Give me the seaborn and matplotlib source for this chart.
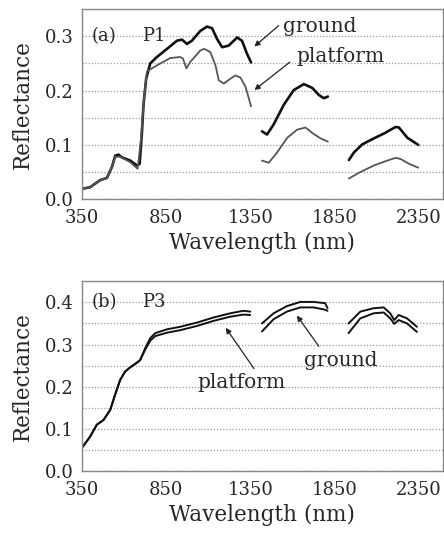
import numpy as np
import pandas as pd
import matplotlib
matplotlib.use("Agg")
import matplotlib.pyplot as plt
import seaborn as sns
from matplotlib.ticker import MultipleLocator

# ---------------- data: panel (a) P1 ----------------
a_ground_wl_1 = [350, 398, 457, 497, 527, 547, 566, 586, 636, 676, 692, 705, 715, 731, 755, 795, 855, 914, 944, 974, 1003, 1053, 1093, 1123, 1153, 1183, 1222, 1272, 1301, 1331, 1355]
a_ground_r_1 = [0.019, 0.022, 0.035, 0.039, 0.059, 0.080, 0.082, 0.077, 0.071, 0.062, 0.065, 0.120, 0.174, 0.222, 0.250, 0.262, 0.277, 0.292, 0.294, 0.286, 0.292, 0.310, 0.318, 0.315, 0.295, 0.280, 0.283, 0.298, 0.292, 0.268, 0.252]
a_plat_wl_1 = [350, 398, 457, 497, 527, 547, 576, 636, 680, 700, 715, 735, 759, 815, 874, 934, 950, 970, 994, 1053, 1077, 1113, 1143, 1163, 1193, 1232, 1262, 1292, 1322, 1336, 1355]
a_plat_r_1 = [0.019, 0.022, 0.035, 0.039, 0.059, 0.078, 0.078, 0.068, 0.056, 0.110, 0.175, 0.235, 0.240, 0.250, 0.260, 0.262, 0.259, 0.241, 0.253, 0.274, 0.277, 0.271, 0.247, 0.219, 0.213, 0.222, 0.228, 0.224, 0.207, 0.192, 0.171]
a_ground_wl_2 = [1420, 1450, 1490, 1550, 1609, 1669, 1719, 1758, 1788, 1812]
a_ground_r_2 = [0.125, 0.119, 0.138, 0.174, 0.201, 0.212, 0.205, 0.192, 0.186, 0.189]
a_plat_wl_2 = [1420, 1460, 1510, 1570, 1629, 1679, 1719, 1768, 1812]
a_plat_r_2 = [0.071, 0.067, 0.086, 0.113, 0.128, 0.132, 0.122, 0.112, 0.106]
a_ground_wl_3 = [1937, 1967, 2017, 2086, 2146, 2215, 2235, 2285, 2350]
a_ground_r_3 = [0.072, 0.086, 0.101, 0.112, 0.121, 0.133, 0.132, 0.113, 0.100]
a_plat_wl_3 = [1937, 2006, 2086, 2165, 2215, 2245, 2295, 2350]
a_plat_r_3 = [0.038, 0.050, 0.062, 0.071, 0.076, 0.074, 0.065, 0.058]

# ---------------- data: panel (b) P3 ----------------
b_ground_wl_1 = [354, 398, 437, 477, 517, 546, 576, 606, 636, 676, 695, 725, 755, 785, 854, 933, 1033, 1131, 1231, 1310, 1350]
b_ground_r_1 = [0.058, 0.082, 0.110, 0.121, 0.145, 0.181, 0.216, 0.236, 0.246, 0.257, 0.263, 0.291, 0.315, 0.327, 0.336, 0.342, 0.352, 0.364, 0.374, 0.380, 0.378]
b_plat_wl_1 = [354, 398, 437, 477, 517, 546, 576, 606, 636, 676, 695, 725, 755, 785, 854, 933, 1033, 1131, 1231, 1310, 1350]
b_plat_r_1 = [0.058, 0.082, 0.110, 0.121, 0.145, 0.181, 0.216, 0.236, 0.246, 0.257, 0.263, 0.288, 0.309, 0.320, 0.328, 0.334, 0.344, 0.356, 0.366, 0.371, 0.370]
b_ground_wl_2 = [1420, 1489, 1568, 1648, 1727, 1796, 1810]
b_ground_r_2 = [0.350, 0.374, 0.391, 0.401, 0.401, 0.398, 0.386]
b_plat_wl_2 = [1420, 1489, 1568, 1648, 1727, 1790, 1810]
b_plat_r_2 = [0.331, 0.360, 0.378, 0.388, 0.388, 0.383, 0.380]
b_ground_wl_3 = [1935, 2005, 2084, 2144, 2183, 2207, 2233, 2283, 2342]
b_ground_r_3 = [0.350, 0.378, 0.386, 0.388, 0.374, 0.358, 0.370, 0.362, 0.342]
b_plat_wl_3 = [1935, 2005, 2084, 2144, 2183, 2207, 2233, 2283, 2342]
b_plat_r_3 = [0.327, 0.362, 0.374, 0.376, 0.362, 0.349, 0.358, 0.350, 0.330]

x_ticks = [350, 850, 1350, 1850, 2350]


def build(segments):
    rows = []
    for series, seg, wl, r in segments:
        for w, v in zip(wl, r):
            rows.append({"wl": w, "R": v, "series": series, "seg": f"{series}-{seg}"})
    return pd.DataFrame(rows)


df_a = build([
    ("ground", 1, a_ground_wl_1, a_ground_r_1), ("ground", 2, a_ground_wl_2, a_ground_r_2),
    ("ground", 3, a_ground_wl_3, a_ground_r_3), ("platform", 1, a_plat_wl_1, a_plat_r_1),
    ("platform", 2, a_plat_wl_2, a_plat_r_2), ("platform", 3, a_plat_wl_3, a_plat_r_3),
])
df_b = build([
    ("ground", 1, b_ground_wl_1, b_ground_r_1), ("ground", 2, b_ground_wl_2, b_ground_r_2),
    ("ground", 3, b_ground_wl_3, b_ground_r_3), ("platform", 1, b_plat_wl_1, b_plat_r_1),
    ("platform", 2, b_plat_wl_2, b_plat_r_2), ("platform", 3, b_plat_wl_3, b_plat_r_3),
])

sns.set_theme(style="white")
plt.rcParams["font.family"] = ["DejaVu Serif"]

fig = plt.figure(figsize=(4.44, 5.44), dpi=100)
ax1 = fig.add_axes([0.185, 0.634, 0.812, 0.349])
ax2 = fig.add_axes([0.185, 0.134, 0.812, 0.349])

FS = 13


def style_axes(ax, ymax):
    ax.set_xlim(350, 2495)
    ax.set_ylim(0, ymax)
    ax.set_xticks(x_ticks)
    ax.yaxis.set_major_locator(MultipleLocator(0.1))
    ax.yaxis.set_minor_locator(MultipleLocator(0.05))
    ax.yaxis.set_major_formatter(matplotlib.ticker.FormatStrFormatter("%.1f"))
    ax.grid(True, axis="y", which="both", linestyle=(0, (1, 1.5)), color="#999999", linewidth=0.9)
    ax.set_axisbelow(True)
    ax.tick_params(axis="both", which="major", direction="in", length=4, labelsize=FS, color="#777777")
    ax.tick_params(axis="x", which="major", pad=7)
    ax.tick_params(axis="y", which="major", pad=6)
    ax.tick_params(axis="y", which="minor", length=0)
    for s in ax.spines.values():
        s.set_color("#888888")
        s.set_linewidth(1.0)
    ax.set_xlabel("Wavelength (nm)", fontsize=15.5, labelpad=4)
    ax.set_ylabel("Reflectance", fontsize=15.5, labelpad=8)


ARROW = dict(arrowstyle="-|>", color="#222222", lw=0.9, mutation_scale=8)

sns.lineplot(data=df_a, x="wl", y="R", hue="series", units="seg", estimator=None,
             palette={"ground": "#111111", "platform": "#555555"}, size="series",
             sizes={"ground": 1.9, "platform": 1.3}, sort=False, legend=False, ax=ax1)
style_axes(ax1, 0.35)
ax1.text(0.025, 0.86, "(a)", transform=ax1.transAxes, fontsize=FS, va="center")
ax1.text(0.165, 0.86, "P1", transform=ax1.transAxes, fontsize=FS, va="center")
ax1.annotate("ground", xy=(1362, 0.278), xytext=(1545, 0.318), fontsize=14.5,
             va="center", ha="left",
             arrowprops=dict(ARROW, relpos=(0, 0.75), shrinkA=1))
ax1.annotate("platform", xy=(1362, 0.198), xytext=(1625, 0.262), fontsize=14.5,
             va="center", ha="left",
             arrowprops=dict(ARROW, relpos=(0, 0.5), shrinkA=3))

sns.lineplot(data=df_b, x="wl", y="R", hue="series", units="seg", estimator=None,
             palette={"ground": "#111111", "platform": "#111111"}, size="series",
             sizes={"ground": 1.4, "platform": 1.4}, sort=False, legend=False, ax=ax2)
style_axes(ax2, 0.45)
ax2.text(0.025, 0.89, "(b)", transform=ax2.transAxes, fontsize=FS, va="center")
ax2.text(0.165, 0.89, "P3", transform=ax2.transAxes, fontsize=FS, va="center")
ax2.annotate("platform", xy=(1195, 0.345), xytext=(1296, 0.21), fontsize=14.5,
             va="center", ha="center",
             arrowprops=dict(ARROW, relpos=(0.68, 1.0), shrinkA=1))
ax2.annotate("ground", xy=(1618, 0.374), xytext=(1886, 0.263), fontsize=14.5,
             va="center", ha="center",
             arrowprops=dict(ARROW, relpos=(0.25, 1.0), shrinkA=1))

fig.savefig("out.png", dpi=100)
